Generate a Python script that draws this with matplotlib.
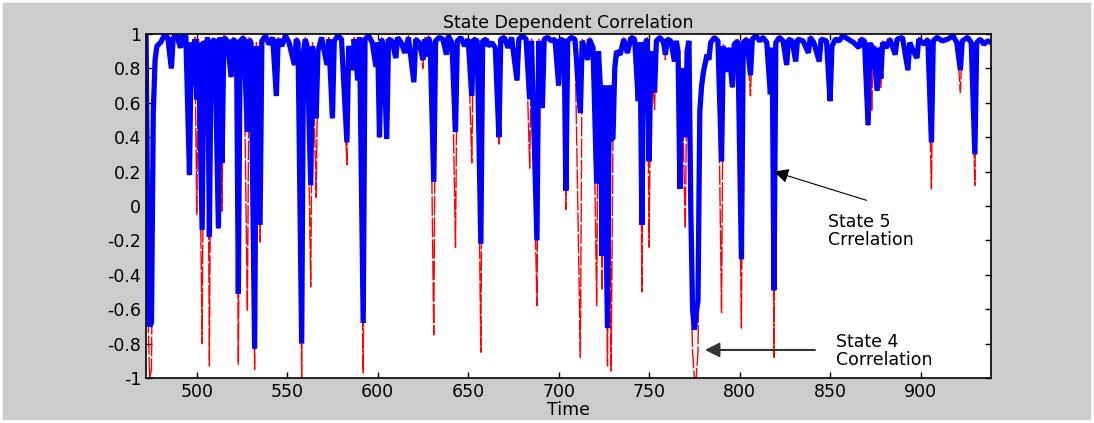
#State dependent correlation chart, state 4 and state 5 series
import matplotlib
matplotlib.use('Agg')
import matplotlib.pyplot as plt
from matplotlib.patches import Rectangle

#time points where the series change
time = [472, 473, 474, 475, 476, 477, 478, 480, 482, 484, 486, 487, 489, 491, 492, 494,
        496, 497, 498, 499, 500, 501, 503, 504, 505, 506, 507, 508, 510, 512, 513, 514,
        515, 517, 519, 520, 522, 523, 524, 526, 528, 529, 530, 532, 533, 535, 536, 538,
        540, 542, 544, 545, 547, 549, 551, 554, 555, 556, 558, 559, 560, 561, 563, 564,
        566, 567, 569, 572, 573, 575, 576, 578, 580, 583, 584, 586, 587, 589, 590, 592,
        593, 595, 597, 599, 600, 601, 602, 603, 605, 606, 608, 610, 611, 613, 615, 617,
        620, 621, 623, 625, 626, 627, 628, 629, 631, 632, 634, 636, 638, 639, 641, 643,
        644, 646, 648, 650, 652, 653, 655, 657, 658, 660, 661, 663, 665, 667, 668, 670,
        672, 674, 677, 678, 680, 682, 684, 685, 688, 689, 691, 692, 694, 696, 698, 700,
        701, 703, 704, 705, 707, 709, 712, 713, 714, 716, 717, 719, 721, 722, 723, 724,
        725, 727, 728, 729, 730, 731, 732, 734, 736, 738, 740, 742, 744, 745, 746, 747,
        749, 750, 751, 753, 754, 756, 758, 759, 760, 762, 764, 765, 766, 767, 768, 770,
        771, 772, 773, 774, 775, 776, 777, 778, 779, 780, 782, 783, 784, 786, 788, 790,
        791, 793, 794, 796, 797, 799, 801, 802, 804, 806, 807, 809, 811, 813, 815, 817,
        818, 819, 820, 822, 824, 826, 827, 829, 831, 832, 835, 838, 839, 841, 844, 845,
        848, 850, 851, 853, 855, 857, 860, 863, 866, 867, 869, 871, 872, 873, 874, 876,
        877, 878, 879, 881, 883, 886, 887, 890, 893, 894, 896, 898, 899, 902, 904, 906,
        907, 909, 912, 915, 918, 920, 922, 923, 926, 928, 930, 931, 933, 935, 937, 939]

#state 5 correlation (thick blue line)
state5 = [1.00, -0.30, -0.70, -0.68, 0.55, 0.85, 0.93, 0.95, 0.99, 0.98, 0.80, 0.98, 0.99, 0.92, 0.99, 0.99,
          0.18, 0.95, 0.70, 0.97, 0.62, 0.95, -0.14, 0.96, 0.90, 0.98, -0.18, 0.95, 0.97, -0.13, 0.98, 0.25,
          0.98, 0.96, 0.75, 0.97, 0.95, -0.51, 0.96, 0.98, 0.43, 0.97, 0.95, -0.83, 0.93, -0.11, 0.96, 0.99,
          0.94, 0.98, 0.64, 0.97, 0.93, 0.99, 0.95, 0.82, 0.97, 0.95, -0.80, 0.90, 0.97, 0.93, 0.12, 0.93,
          0.51, 0.90, 0.98, 0.82, 0.97, 0.51, 0.96, 0.99, 0.97, 0.37, 0.93, 0.79, 0.97, 0.73, 0.98, -0.68,
          0.97, 0.99, 0.95, 0.81, 0.95, 0.40, 0.97, 0.95, 0.39, 0.97, 0.96, 0.86, 0.98, 0.95, 0.89, 0.98,
          0.72, 0.97, 0.95, 0.85, 0.97, 0.87, 0.98, 0.95, 0.14, 0.96, 0.98, 0.97, 0.88, 0.99, 0.95, 0.43,
          0.96, 0.98, 0.93, 0.97, 0.64, 0.97, 0.96, -0.22, 0.96, 0.97, 0.93, 0.95, 0.92, 0.40, 0.97, 0.98,
          0.92, 0.98, 0.73, 0.97, 0.99, 0.97, 0.62, 0.96, -0.20, 0.96, 0.57, 0.97, 0.98, 0.96, 0.97, 0.70,
          0.97, 0.96, 0.09, 0.96, 0.98, 0.97, 0.54, 0.96, 0.93, 0.85, 0.97, 0.92, 0.13, 0.90, 0.70, -0.29,
          0.70, -0.71, 0.70, 0.39, 0.39, 0.80, 0.90, 0.88, 0.97, 0.89, 0.98, 0.97, 0.61, 0.95, -0.11, 0.93,
          0.97, 0.26, 0.90, 0.66, 0.96, 0.98, 0.95, 0.88, 0.97, 0.96, 0.84, 0.96, 0.90, 0.10, 0.80, 0.40,
          0.90, 0.96, 0.00, -0.60, -0.72, -0.62, -0.55, 0.55, 0.70, 0.78, 0.88, 0.85, 0.95, 0.98, 0.96, 0.26,
          0.93, 0.78, 0.92, 0.69, 0.94, 0.96, -0.31, 0.95, 0.97, 0.76, 0.97, 0.99, 0.96, 0.98, 0.95, 0.65,
          0.92, -0.49, 0.95, 0.98, 0.96, 0.82, 0.97, 0.96, 0.84, 0.97, 0.96, 0.89, 0.98, 0.95, 0.84, 0.97,
          0.96, 0.61, 0.93, 0.97, 0.96, 0.99, 0.97, 0.95, 0.92, 0.97, 0.96, 0.47, 0.95, 0.80, 0.93, 0.67,
          0.92, 0.74, 0.95, 0.92, 0.97, 0.88, 0.97, 0.98, 0.79, 0.95, 0.90, 0.86, 0.97, 0.94, 0.97, 0.37,
          0.96, 0.98, 0.96, 0.97, 0.99, 0.95, 0.79, 0.96, 0.98, 0.95, 0.30, 0.95, 0.97, 0.94, 0.96, 0.95]

#state 4 correlation (thin red line, mostly hidden under the blue one)
state4 = [1.00, -0.60, -1.00, -0.95, 0.50, 0.85, 0.93, 0.95, 1.00, 0.98, 0.80, 0.98, 1.00, 0.92, 1.00, 0.99,
          0.18, 0.95, 0.70, 0.98, -0.05, 0.97, -0.80, 0.96, 0.90, 0.98, -0.93, 0.97, 0.64, -0.13, 0.98, -0.03,
          0.99, 0.97, 0.75, 0.98, 0.95, -0.92, 0.96, 0.99, -0.61, 0.98, 0.96, -0.95, 0.95, -0.21, 0.97, 1.00,
          0.94, 0.98, 0.64, 0.98, 0.93, 1.00, 0.95, 0.82, 0.98, 0.95, -1.00, 0.90, 0.98, 0.93, -0.47, 0.95,
          0.05, 0.90, 0.98, 0.82, 0.98, 0.51, 0.96, 1.00, 0.98, 0.24, 0.93, 0.79, 0.98, 0.73, 0.98, -0.97,
          0.98, 1.00, 0.95, 0.81, 0.95, 0.40, 0.98, 0.95, 0.39, 0.98, 0.97, 0.86, 0.98, 0.95, 0.89, 0.99,
          0.72, 0.98, 0.95, 0.80, 0.98, 0.87, 0.99, 0.95, -0.75, 0.97, 0.98, 0.98, 0.88, 1.00, 0.95, -0.24,
          0.97, 0.98, 0.93, 0.97, 0.25, 0.98, 0.97, -0.85, 0.97, 0.98, 0.93, 0.95, 0.92, 0.36, 0.98, 0.99,
          0.92, 0.98, 0.73, 0.98, 1.00, 0.97, 0.22, 0.97, -0.58, 0.97, 0.57, 0.98, 0.99, 0.97, 0.98, 0.70,
          0.98, 0.97, -0.02, 0.97, 0.99, 0.98, -0.88, 0.97, 0.93, 0.85, 0.98, 0.92, -0.58, 0.90, 0.70, -0.49,
          0.70, -0.93, 0.70, -0.96, 0.39, 0.80, 0.90, 0.88, 0.98, 0.89, 0.99, 0.98, 0.61, 0.95, -0.50, 0.94,
          0.98, -0.24, 0.90, 0.56, 0.97, 0.99, 0.95, 0.85, 0.98, 0.97, 0.84, 0.96, 0.90, 0.10, 0.80, -0.13,
          0.90, 0.96, -0.40, -0.85, -1.00, -1.00, -0.85, 0.20, 0.70, 0.78, 0.88, 0.85, 0.95, 0.99, 0.97, -0.62,
          0.94, 0.78, 0.92, 0.69, 0.95, 0.97, -0.71, 0.96, 0.98, 0.64, 0.98, 1.00, 0.97, 0.99, 0.95, 0.65,
          0.92, -0.88, 0.96, 0.99, 0.97, 0.82, 0.98, 0.97, 0.84, 0.98, 0.97, 0.89, 0.99, 0.95, 0.84, 0.98,
          0.97, 0.61, 0.94, 0.98, 0.97, 1.00, 0.98, 0.96, 0.92, 0.98, 0.97, 0.47, 0.95, 0.55, 0.94, 0.67,
          0.92, 0.69, 0.96, 0.92, 0.98, 0.88, 0.98, 0.99, 0.79, 0.96, 0.90, 0.86, 0.98, 0.94, 0.98, 0.10,
          0.97, 0.99, 0.97, 0.98, 1.00, 0.95, 0.66, 0.97, 0.99, 0.95, 0.12, 0.96, 0.98, 0.95, 0.97, 0.96]

x_ticks = [500, 550, 600, 650, 700, 750, 800, 850, 900]
y_ticks = [-1, -0.8, -0.6, -0.4, -0.2, 0, 0.2, 0.4, 0.6, 0.8, 1]
y_tick_labels = ['-1', '-0.8', '-0.6', '-0.4', '-0.2', '0', '0.2', '0.4', '0.6', '0.8', '1']

plt.rcParams['font.family'] = 'DejaVu Sans'
fsize = 12.5

#gray matlab style figure
fig = plt.figure(figsize=(10.94, 4.23), dpi=100, facecolor='#cccccc')
fig.patches.append(Rectangle((0, 0), 1, 1, transform=fig.transFigure, fill=False,
                             edgecolor='white', linewidth=4))
ax = fig.add_axes([0.1335, 0.1064, 0.7725, 0.8132])
ax.set_facecolor('white')

#red first so the blue one sits on top
ax.plot(time, state4, color='#ff0000', linewidth=1.0, linestyle=(0, (14, 1.5)))
ax.plot(time, state5, color='#0000ff', linewidth=3.8, solid_joinstyle='bevel')

ax.set_xlim(472, 939)
ax.set_ylim(-1, 1)
ax.set_xticks(x_ticks)
ax.set_yticks(y_ticks)
ax.set_yticklabels(y_tick_labels)
ax.tick_params(direction='in', length=4, width=1, labelsize=fsize, top=True, right=True)
for side in ax.spines.values():
    side.set_linewidth(1.2)

ax.set_title('State Dependent Correlation', fontsize=fsize, pad=4)
ax.set_xlabel('Time', fontsize=fsize, labelpad=0)

#the two labels with arrows
ax.annotate('State 5\nCrrelation', xy=(819, 0.20), xytext=(848.8, -0.145),
            fontsize=fsize, ha='left', va='center', linespacing=1.0,
            arrowprops=dict(arrowstyle='-|>', color='black', lw=0.8,
                            mutation_scale=22, shrinkA=0, shrinkB=0,
                            relpos=(0.45, 1.35)))
ax.annotate('', xy=(780.8, -0.837), xytext=(841.6, -0.837),
            arrowprops=dict(arrowstyle='-|>', color='#333333', lw=1.5,
                            mutation_scale=22, shrinkA=0, shrinkB=0))
ax.text(853, -0.843, 'State 4\nCorrelation', fontsize=fsize, ha='left', va='center',
        linespacing=1.0)

fig.savefig('out.png', dpi=100, facecolor=fig.get_facecolor())
